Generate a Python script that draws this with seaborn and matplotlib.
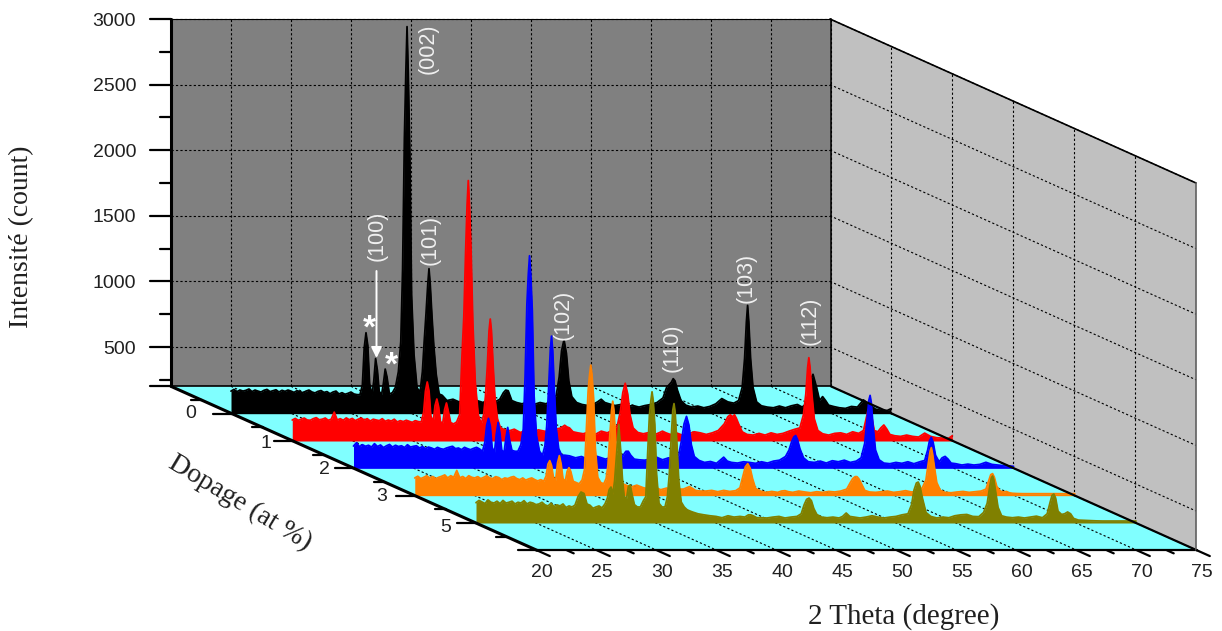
import matplotlib
matplotlib.use("Agg")
import matplotlib.pyplot as plt
import pandas as pd
import seaborn as sns
from matplotlib.patches import Polygon
from matplotlib.transforms import Affine2D

two_theta = [
    20.0, 20.25, 20.5, 20.75, 21.0, 21.25, 21.5, 21.75, 22.0, 22.25, 22.5, 22.75, 23.0, 23.25, 23.5, 23.75, 24.0, 24.25, 24.5, 24.75, 25.0,
    25.25, 25.5, 25.75, 26.0, 26.25, 26.5, 26.75, 27.0, 27.25, 27.5, 27.75, 28.0, 28.25, 28.5, 28.75, 29.0, 29.25, 29.5, 29.75, 30.0, 30.25, 30.5,
    30.75, 30.95, 31.1, 31.25, 31.4, 31.55, 31.75, 31.9, 32.05, 32.2, 32.35, 32.55, 32.7, 32.85, 33.0, 33.2, 33.45, 33.7, 33.95,
    34.15, 34.3, 34.45, 34.57, 34.67, 34.77, 34.9, 35.05, 35.25, 35.5, 35.75,
    35.95, 36.1, 36.25, 36.4, 36.5, 36.6, 36.75, 36.9, 37.1, 37.35, 37.6,
    38.0, 38.5, 39.0, 39.5, 40.0, 40.5, 41.0, 41.5, 42.0,
    42.4, 42.7, 42.9, 43.1, 43.4, 43.8,
    44.25, 44.75, 45.25, 45.75, 46.25, 46.75,
    47.1, 47.35, 47.55, 47.75, 47.95, 48.15, 48.4, 48.8,
    49.25, 49.75, 50.25, 50.55, 50.85, 51.15, 51.5, 52.0, 52.5, 53.0, 53.5, 54.0, 54.5, 55.0, 55.5,
    56.0, 56.3, 56.5, 56.7, 56.85, 57.0, 57.2, 57.5, 57.9,
    58.4, 58.9, 59.4, 59.9, 60.4, 60.9, 61.4, 61.9,
    62.3, 62.6, 62.8, 62.95, 63.05, 63.15, 63.3, 63.5, 63.8, 64.2,
    64.7, 65.2, 65.7, 66.2, 66.7, 67.2,
    67.6, 67.85, 68.0, 68.15, 68.3, 68.5, 68.8, 69.05, 69.3, 69.55, 69.8,
    70.2, 70.7, 71.2, 71.7, 72.2, 72.7, 73.2, 73.7, 74.2, 74.7, 75.0,
]

counts_0 = [
    372, 385, 368, 380, 372, 378, 388, 368, 380, 372, 365, 378, 385, 368, 375, 382, 365, 378, 370, 380, 372,
    362, 375, 368, 360, 372, 380, 365, 358, 370, 376, 362, 368, 352, 365, 372, 350, 360, 348, 355, 365, 350, 345,
    345, 420, 700, 817, 720, 430, 340, 450, 620, 530, 370, 345, 430, 540, 480, 350, 360, 400, 520,
    750, 1300, 2300, 2800, 3150, 2800, 2200, 1100, 650, 400, 360,
    520, 750, 960, 1190, 1305, 1190, 940, 720, 500, 350, 340,
    300, 310, 290, 300, 280, 300, 285, 310, 290,
    310, 360, 380, 375, 300, 285,
    275, 290, 270, 285, 275, 300,
    340, 480, 680, 764, 660, 450, 330, 285,
    270, 262, 275, 290, 310, 285, 275, 262, 270, 255, 262, 250, 262, 270, 285,
    320, 400, 420, 440, 467, 450, 380, 300, 265,
    250, 258, 245, 255, 275, 315, 290, 280,
    300, 400, 620, 900, 1025, 900, 620, 400, 290, 260,
    250, 245, 258, 245, 260, 270,
    250, 270, 300, 360, 460, 500, 400, 300, 330, 300, 265,
    255, 245, 240, 255, 250, 305, 270, 235, 225, 225, 238,
]

counts_1 = [
    360, 372, 358, 366, 375, 360, 358, 370, 378, 362, 366, 375, 358, 366, 420, 360, 370, 358, 376, 362, 372,
    355, 366, 375, 360, 370, 352, 366, 360, 355, 370, 350, 360, 352, 366, 345, 355, 348, 358, 350, 342, 355, 348,
    345, 420, 580, 650, 580, 390, 345, 470, 520, 460, 345, 340, 440, 490, 430, 340, 330, 345, 400,
    860, 1150, 1650, 2000, 2185, 2000, 1650, 1100, 650, 400, 330,
    400, 540, 760, 1040, 1130, 1040, 760, 520, 370, 300, 290,
    275, 290, 265, 280, 262, 285, 275, 270, 290,
    300, 320, 307, 300, 270, 262,
    255, 270, 250, 275, 262, 285,
    320, 430, 570, 640, 560, 400, 300, 265,
    255, 265, 250, 262, 275, 262, 250, 262, 245, 255, 270, 262, 250, 262, 280,
    330, 385, 400, 385, 400, 375, 330, 270, 250,
    245, 258, 245, 262, 250, 258, 275, 290,
    300, 400, 560, 760, 835, 760, 560, 370, 280, 255,
    245, 258, 262, 250, 270, 258,
    280, 380, 440, 450, 380, 280, 270, 300, 322, 290, 250,
    240, 235, 245, 235, 230, 260, 235, 225, 222, 220, 240,
]

counts_2 = [
    370, 395, 365, 380, 368, 376, 362, 388, 366, 378, 358, 372, 382, 362, 376, 366, 372, 358, 380, 362, 368,
    372, 355, 366, 350, 362, 355, 345, 360, 350, 345, 355, 362, 368, 350, 355, 342, 360, 350, 342, 352, 360, 348,
    330, 400, 530, 581, 520, 360, 322, 460, 550, 470, 340, 320, 430, 512, 420, 337, 330, 330, 380,
    500, 900, 1450, 1680, 1820, 1680, 1400, 750, 450, 330, 300,
    370, 520, 790, 1100, 1208, 1100, 780, 500, 350, 300, 300,
    295, 280, 290, 270, 300, 285, 270, 285, 290,
    290, 330, 330, 300, 270, 265,
    262, 270, 285, 265, 280, 262,
    300, 420, 540, 596, 530, 380, 290, 260,
    245, 252, 238, 262, 285, 255, 245, 240, 250, 245, 238, 250, 240, 255, 262,
    290, 340, 400, 440, 450, 420, 350, 280, 250,
    245, 255, 240, 258, 250, 262, 245, 255,
    280, 390, 580, 720, 756, 700, 520, 340, 265, 240,
    235, 245, 238, 250, 235, 250,
    260, 340, 410, 436, 400, 300, 250, 280, 291, 270, 240,
    235, 225, 232, 225, 230, 246, 230, 225, 220, 218, 215,
]

counts_3 = [
    335, 348, 330, 340, 352, 335, 346, 330, 340, 348, 358, 335, 352, 340, 392, 336, 346, 330, 352, 340, 335,
    345, 330, 340, 352, 335, 330, 345, 338, 322, 335, 330, 340, 346, 330, 322, 335, 318, 328, 335, 322, 312, 322,
    310, 350, 440, 467, 430, 340, 320, 450, 505, 440, 330, 310, 385, 413, 385, 310, 300, 290, 320,
    400, 700, 1000, 1120, 1195, 1120, 950, 560, 340, 300, 290,
    330, 430, 650, 850, 920, 850, 620, 420, 320, 290, 280,
    265, 280, 262, 250, 265, 245, 258, 240, 250,
    250, 262, 269, 258, 240, 235,
    235, 240, 230, 240, 232, 238,
    260, 350, 420, 444, 410, 330, 255, 235,
    225, 232, 225, 235, 238, 230, 225, 235, 228, 222, 230, 225, 232, 228, 235,
    250, 300, 330, 345, 345, 330, 295, 240, 228,
    225, 230, 235, 225, 230, 238, 228, 232,
    260, 320, 450, 540, 566, 520, 420, 300, 240, 225,
    222, 228, 232, 225, 230, 235,
    250, 320, 360, 368, 340, 270, 235, 228, 232, 222, 218,
    216, 215, 215, 215, 215, 215, 215, 215, 215, 215, 215,
]

counts_5 = [
    355, 372, 360, 348, 376, 358, 352, 366, 348, 372, 352, 358, 366, 345, 358, 352, 370, 345, 358, 352, 340,
    345, 358, 338, 330, 350, 325, 338, 330, 345, 318, 330, 322, 336, 400, 436, 425, 345, 335, 312, 322, 330, 315,
    345, 390, 455, 474, 420, 520, 760, 950, 760, 540, 400, 390, 480, 490, 420, 340, 322, 322, 370,
    400, 720, 1020, 1130, 1200, 1130, 950, 570, 350, 322, 322,
    400, 560, 820, 1060, 1110, 1040, 790, 520, 360, 322, 300,
    285, 270, 262, 255, 250, 240, 255, 245, 250,
    245, 262, 262, 255, 240, 240,
    238, 245, 250, 238, 245, 250,
    270, 340, 380, 390, 370, 310, 265, 245,
    240, 245, 238, 250, 276, 250, 245, 238, 245, 255, 245, 238, 245, 250, 262,
    270, 340, 450, 505, 512, 480, 390, 280, 250,
    238, 245, 240, 255, 262, 265, 250, 248,
    280, 350, 470, 545, 558, 530, 440, 320, 255, 245,
    240, 245, 238, 245, 252, 240,
    270, 360, 410, 421, 390, 290, 265, 270, 284, 270, 235,
    222, 220, 218, 216, 215, 215, 215, 215, 215, 215, 215,
]

dopage_labels = ["0", "1", "2", "3", "5"]
spectrum_colors = ["black", "red", "blue", "#ff8000", "#808000"]
all_counts = [counts_0, counts_1, counts_2, counts_3, counts_5]

theta_ticks = [20, 25, 30, 35, 40, 45, 50, 55, 60, 65, 70, 75]
theta_minor = [22.5, 27.5, 32.5, 37.5, 42.5, 47.5, 52.5, 57.5, 62.5, 67.5, 72.5]
count_ticks = [500, 1000, 1500, 2000, 2500, 3000]
count_minor = [250, 750, 1250, 1750, 2250, 2750]
depth_ticks = [1, 2, 3, 4, 5, 6]
depth_minor = [0.5, 1.5, 2.5, 3.5, 4.5, 5.5]
depth_label_dx = [-41, -27, -30, -33, -30]
depth_label_dy = [0, -2, -1, -1, -4]

peak_labels = ["(002)", "(100)", "(101)", "(102)", "(110)", "(103)", "(112)"]
peak_label_x = [428, 377, 430, 563, 672, 746, 810]
peak_label_y = [49, 236, 240, 315, 348, 278, 321]

# long table, one row per point
rows = []
for depth, counts in enumerate(all_counts, start=1):
    rows.append(pd.DataFrame({"two_theta": two_theta, "counts": counts, "depth": depth}))
spectra = pd.concat(rows, ignore_index=True)

sns.set_theme(style="white")
plt.rcParams["font.family"] = ["Liberation Sans", "DejaVu Sans"]

fig = plt.figure(figsize=(12.22, 6.31), dpi=100)
ax = fig.add_axes([0, 0, 1, 1])

# the oblique view: each plane of the box gets its own affine map to pixels
px_theta = 12.0
px_count = 0.1312
dx_depth = 61.0
dy_depth = 27.33
x_left = 171.0 - 20 * px_theta
y_zero = 19.0 + 3000 * px_count
y_base = y_zero - 200 * px_count

back_px = Affine2D().scale(px_theta, -px_count).translate(x_left, y_zero)
back_tr = back_px + ax.transData
floor_tr = Affine2D.from_values(px_theta, 0, dx_depth, dy_depth, x_left, y_base) + ax.transData
side_tr = Affine2D.from_values(dx_depth, dy_depth, 0, -px_count, 830, y_zero) + ax.transData

ax.add_patch(Polygon([(20, 200), (75, 200), (75, 3000), (20, 3000)], fc="#808080", ec="none", transform=back_tr))
ax.add_patch(Polygon([(20, 0), (75, 0), (75, 6), (20, 6)], fc="#80ffff", ec="none", transform=floor_tr))
ax.add_patch(Polygon([(0, 200), (6, 200), (6, 3000), (0, 3000)], fc="#c0c0c0", ec="none", transform=side_tr))

grid = dict(color="black", lw=0.8, ls=(0, (2, 2)), zorder=2)
for t in theta_ticks[1:]:
    ax.plot([t, t], [200, 3000], transform=back_tr, **grid)
    ax.plot([t, t], [0, 6], transform=floor_tr, **grid)
for c in count_ticks:
    ax.plot([20, 75], [c, c], transform=back_tr, **grid)
    ax.plot([0, 6], [c, c], transform=side_tr, **grid)
for d in depth_ticks[:-1]:
    ax.plot([d, d], [200, 3000], transform=side_tr, **grid)

# spectra from the back row to the front row
for depth, color in zip(range(1, 6), spectrum_colors):
    one = spectra[spectra["depth"] == depth]
    shift = Affine2D().translate(61.25 * depth - 1.25, depth * dy_depth)
    tr = back_px + shift + ax.transData
    ax.fill_between(one["two_theta"], 200, one["counts"], color=color, lw=0, transform=tr, zorder=3 + depth)
    sns.lineplot(data=one, x="two_theta", y="counts", color=color, lw=1.3, estimator=None, sort=False,
                 legend=False, ax=ax, transform=tr, zorder=3 + depth)

# box edges
edge = dict(color="black", zorder=10)
ax.plot([20, 20], [200, 3000], transform=back_tr, lw=2.2, **edge)
ax.plot([75, 75], [200, 3000], transform=back_tr, lw=1.2, **edge)
ax.plot([20, 75], [3000, 3000], transform=back_tr, lw=0.8, **edge)
ax.plot([20, 75], [200, 200], transform=back_tr, lw=1.2, zorder=3, color="black")
ax.plot([20, 20], [0, 6], transform=floor_tr, lw=2.2, **edge)
ax.plot([20, 75], [6, 6], transform=floor_tr, lw=1.6, **edge)
ax.plot([75, 75], [0, 6], transform=floor_tr, lw=1.6, **edge)
ax.plot([0, 6], [3000, 3000], transform=side_tr, lw=1.2, **edge)
ax.plot([6, 6], [200, 3000], transform=side_tr, lw=1.2, color="#606060", zorder=10)

# ticks
for c in count_ticks:
    ax.plot([18.25, 20], [c, c], transform=back_tr, lw=1.6, **edge)
    ax.annotate(str(c), xy=(20, c), xycoords=back_tr, xytext=(-35, -2), textcoords="offset pixels",
                ha="right", va="center", fontsize=14, color="#202020")
for c in count_minor:
    ax.plot([19.1, 20], [c, c], transform=back_tr, lw=1.6, **edge)
ax.plot([18.25, 20], [200, 200], transform=back_tr, lw=1.6, **edge)

for d in depth_ticks:
    ax.plot([18.4, 20], [d, d], transform=floor_tr, lw=1.6, **edge)
for d in depth_minor:
    ax.plot([19.1, 20], [d, d], transform=floor_tr, lw=1.6, **edge)
for d, lab, dx, dy in zip(depth_ticks, dopage_labels, depth_label_dx, depth_label_dy):
    ax.annotate(lab, xy=(20, d), xycoords=floor_tr, xytext=(dx, dy), textcoords="offset pixels",
                ha="center", va="center", fontsize=14, color="#202020")

for t in theta_ticks:
    ax.plot([t, t], [6, 6.21], transform=floor_tr, lw=1.6, **edge)
    ax.annotate(str(t), xy=(t, 6), xycoords=floor_tr, xytext=(5, -22), textcoords="offset pixels",
                ha="center", va="center", fontsize=14, color="#202020")
for t in theta_minor:
    ax.plot([t, t], [6, 6.11], transform=floor_tr, lw=1.6, **edge)

# axis titles
serif = ["Liberation Serif", "DejaVu Serif"]
ax.text(22, 237, "Intensité (count)", rotation=90, ha="center", va="center", fontsize=20, family=serif, color="#202020", zorder=12)
ax.text(904, 617, "2 Theta (degree)", ha="center", va="center", fontsize=21, family=serif, color="#202020", zorder=12)
ax.text(240, 503, "Dopage (at %)", rotation=-31, ha="center", va="center", rotation_mode="anchor", fontsize=20,
        family=serif, color="#202020", zorder=12)

# peak annotations
for lab, x, y in zip(peak_labels, peak_label_x, peak_label_y):
    ax.text(x, y, lab, rotation=90, ha="center", va="center", fontsize=15.5, color="#f0f0f0", zorder=12)
ax.annotate("", xy=(376.5, 358), xytext=(376.5, 271),
            arrowprops=dict(arrowstyle="-|>", color="white", lw=1.4, mutation_scale=16, shrinkA=0, shrinkB=0), zorder=12)
ax.text(369, 329, "*", ha="center", va="center", fontsize=24, fontweight="bold", color="white", zorder=12)
ax.text(391, 366, "*", ha="center", va="center", fontsize=24, fontweight="bold", color="white", zorder=12)

ax.set_xlim(0, 1222)
ax.set_ylim(631, 0)
ax.axis("off")

fig.savefig("out.png", dpi=100)
